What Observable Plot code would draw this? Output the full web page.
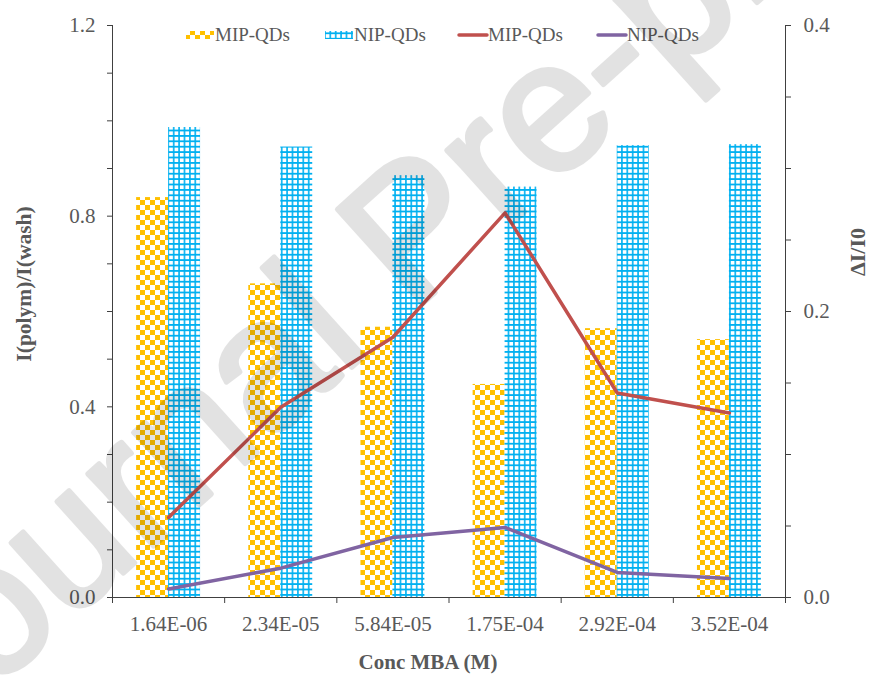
<!DOCTYPE html>
<html>
<head>
<meta charset="utf-8">
<script src="https://cdn.jsdelivr.net/npm/d3@7"></script>
<script src="https://cdn.jsdelivr.net/npm/@observablehq/plot@0.6"></script>
<style>
  html, body { margin: 0; padding: 0; background: #fff; }
  #chart { position: relative; width: 871px; height: 679px; }
</style>
</head>
<body>
<div id="chart"></div>
<script>
// ---- Data ----
const concLabels = ["1.64E-06", "2.34E-05", "5.84E-05", "1.75E-04", "2.92E-04", "3.52E-04"];
// left axis: I(polym)/I(wash)  (bars)
const mipRatio = [0.839, 0.658, 0.567, 0.447, 0.564, 0.541];
const nipRatio = [0.986, 0.945, 0.885, 0.861, 0.948, 0.950];
// right axis: ΔI/I0  (lines)
const mipDelta = [0.056, 0.133, 0.182, 0.269, 0.143, 0.129];
const nipDelta = [0.006, 0.0205, 0.042, 0.049, 0.0175, 0.0133];
const leftTicks = [0, 0.1, 0.2, 0.3, 0.4, 0.5, 0.6, 0.7, 0.8, 0.9, 1.0, 1.1, 1.2];
const rightTicks = [0, 0.05, 0.1, 0.15, 0.2, 0.25, 0.3, 0.35, 0.4];
const legendLabels = ["MIP-QDs", "NIP-QDs", "MIP-QDs", "NIP-QDs"];

const rightMax = 0.4, leftMax = 1.2;
const k = leftMax / rightMax; // map right axis values into left-axis units
const barW = 0.285;           // bar width in category units

const rows = concLabels.map((c, i) => ({
  i, c, mip: mipRatio[i], nip: nipRatio[i], mipD: mipDelta[i], nipD: nipDelta[i]
}));

const tickGray = "#595959";
const lineGray = "#404040";
const serif = "\"Liberation Serif\", \"Times New Roman\", Tinos, \"DejaVu Serif\", serif";
const sans = "\"Liberation Sans\", Arial, \"DejaVu Sans\", sans-serif";

const chart = Plot.plot({
  width: 871,
  height: 679,
  marginLeft: 112,
  marginRight: 86,
  marginTop: 25,
  marginBottom: 82,
  x: { type: "linear", domain: [-0.5, concLabels.length - 0.5], axis: null },
  y: { domain: [0, leftMax], axis: null },
  style: { fontSize: "21px", background: "transparent", overflow: "visible" },
  marks: [
    // bars
    Plot.rect(rows, { x1: d => d.i - barW, x2: d => d.i, y1: 0, y2: "mip", fill: "url(#checker)" }),
    Plot.rect(rows, { x1: d => d.i, x2: d => d.i + barW, y1: 0, y2: "nip", fill: "url(#grid)" }),
    // lines (right axis)
    Plot.line(rows, { x: "i", y: d => d.mipD * k, stroke: "#C0504D", strokeWidth: 3.5, strokeLinejoin: "round", strokeLinecap: "round" }),
    Plot.line(rows, { x: "i", y: d => d.nipD * k, stroke: "#8064A2", strokeWidth: 3.5, strokeLinejoin: "round", strokeLinecap: "round" }),
    // axis lines
    Plot.ruleX([-0.5], { stroke: lineGray }),
    Plot.ruleX([concLabels.length - 0.5], { stroke: lineGray }),
    Plot.ruleY([0], { stroke: lineGray }),
    // left axis
    Plot.axisY({
      anchor: "left", ticks: leftTicks, tickSize: 5, tickPadding: 12,
      tickFormat: d => (Math.round(d * 10) % 4 === 0 ? d.toFixed(1) : ""),
      stroke: lineGray, fill: tickGray, fontSize: 21, label: null
    }),
    // right axis (ΔI/I0 scale)
    Plot.axisY({
      anchor: "right", ticks: rightTicks.map(t => t * k), tickSize: 5, tickPadding: 13,
      tickFormat: d => (Math.round(d / k * 20) % 4 === 0 ? (d / k).toFixed(1) : ""),
      stroke: lineGray, fill: tickGray, fontSize: 21, label: null
    }),
    // x axis: category labels
    Plot.axisX({
      ticks: concLabels.map((c, i) => i), tickSize: 0, tickPadding: 19,
      tickFormat: i => concLabels[i], fill: tickGray, fontSize: 21, label: null
    }),
    // x axis: boundary ticks
    Plot.axisX({
      ticks: d3.range(-0.5, concLabels.length, 1), tickSize: 6,
      tickFormat: () => "", stroke: lineGray, label: null
    })
  ]
});

const svg = d3.select(chart);
const defs = svg.insert("defs", ":first-child");
// checkerboard pattern (MIP-QDs bars)
const ck = defs.append("pattern").attr("id", "checker")
  .attr("patternUnits", "userSpaceOnUse").attr("width", 10).attr("height", 10);
ck.append("rect").attr("width", 10).attr("height", 10).attr("fill", "#fff");
ck.append("rect").attr("width", 5).attr("height", 5).attr("fill", "#FFC000");
ck.append("rect").attr("x", 5).attr("y", 5).attr("width", 5).attr("height", 5).attr("fill", "#FFC000");
// grid pattern (NIP-QDs bars)
const gr = defs.append("pattern").attr("id", "grid")
  .attr("patternUnits", "userSpaceOnUse").attr("width", 5.4).attr("height", 5.4);
gr.append("rect").attr("width", 5.4).attr("height", 5.4).attr("fill", "#fff");
gr.append("path").attr("d", "M0 0.9H5.4M0.9 0V5.4").attr("stroke", "#00B0F0").attr("stroke-width", 1.6);

// axis titles
svg.append("text").text("Conc MBA (M)")
  .attr("x", 428).attr("y", 669).attr("text-anchor", "middle")
  .attr("font-weight", "bold").attr("font-size", 21).attr("fill", tickGray);
svg.append("text").text("I(polym)/I(wash)")
  .attr("transform", "translate(31,284) rotate(-90)").attr("text-anchor", "middle")
  .attr("font-weight", "bold").attr("font-size", 21.5).attr("fill", tickGray);
svg.append("text").text("ΔI/I0")
  .attr("transform", "translate(865,252) rotate(-90)").attr("text-anchor", "middle")
  .attr("font-weight", "bold").attr("font-size", 22).attr("fill", tickGray);

// legend
const lg = svg.append("g").attr("font-size", 19).attr("fill", tickGray).attr("text-anchor", "start");
const legendX = [186, 325, 459, 598];
const swatchW = 28;
lg.append("rect").attr("x", legendX[0]).attr("y", 31).attr("width", swatchW).attr("height", 8).attr("fill", "url(#checker)");
lg.append("rect").attr("x", legendX[1]).attr("y", 31).attr("width", swatchW).attr("height", 8).attr("fill", "url(#grid)");
lg.append("line").attr("x1", legendX[2]).attr("x2", legendX[2] + swatchW).attr("y1", 35).attr("y2", 35)
  .attr("stroke", "#C0504D").attr("stroke-width", 3.5).attr("stroke-linecap", "round");
lg.append("line").attr("x1", legendX[3]).attr("x2", legendX[3] + swatchW).attr("y1", 35).attr("y2", 35)
  .attr("stroke", "#8064A2").attr("stroke-width", 3.5).attr("stroke-linecap", "round");
legendLabels.forEach((t, j) => {
  lg.append("text").text(t).attr("x", legendX[j] + swatchW + 1).attr("y", 41).attr("text-anchor", "start");
});

// apply serif font to every chart text inline
svg.attr("font-family", serif).style("font-family", serif);
svg.selectAll("text").style("font-family", serif);

// watermark
svg.append("g").attr("opacity", 0.11).attr("pointer-events", "none")
  .append("text").text("Journal Pre-proof")
  .style("font-family", sans)
  .attr("transform", "translate(410,228) rotate(-42)")
  .attr("text-anchor", "middle").attr("dy", "0.35em")
  .attr("font-size", 185).attr("fill", "#000")
  .attr("stroke", "#000").attr("stroke-width", 5).attr("stroke-linejoin", "round");

document.getElementById("chart").appendChild(chart);
</script>
</body>
</html>
